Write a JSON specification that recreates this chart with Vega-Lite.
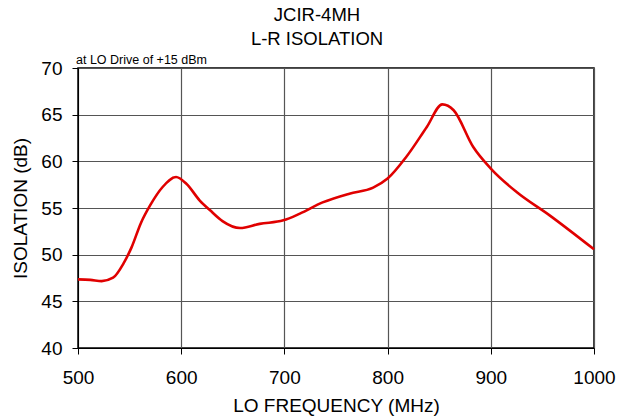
{
  "$schema": "https://vega.github.io/schema/vega-lite/v6.json",
  "width": 516,
  "height": 280,
  "autosize": {"type": "none"},
  "padding": {"left": 78, "top": 68, "right": 24, "bottom": 68},
  "background": "white",
  "config": {
    "font": "Liberation Sans",
    "view": {"stroke": "black", "strokeWidth": 1.5},
    "axis": {
      "labelFont": "Liberation Sans",
      "titleFont": "Liberation Sans",
      "labelFontSize": 19,
      "titleFontSize": 19,
      "titleFontWeight": "normal",
      "labelColor": "black",
      "titleColor": "black",
      "gridColor": "#555555",
      "gridWidth": 1.2,
      "gridOpacity": 1,
      "domainColor": "black",
      "tickColor": "black",
      "tickSize": 6
    }
  },
  "title": {
    "text": ["JCIR-4MH", "L-R ISOLATION"],
    "font": "Liberation Sans",
    "fontSize": 18.5,
    "fontWeight": "normal",
    "color": "black",
    "anchor": "middle",
    "frame": "group",
    "dx": -19,
    "lineHeight": 24,
    "offset": 6
  },
  "layer": [
    {
      "data": {
        "values": [
          {"f": 500, "iso": 47.35},
          {"f": 512, "iso": 47.3},
          {"f": 523, "iso": 47.17},
          {"f": 534, "iso": 47.53},
          {"f": 544, "iso": 49.04},
          {"f": 552, "iso": 50.81},
          {"f": 561, "iso": 53.4},
          {"f": 570, "iso": 55.3},
          {"f": 582, "iso": 57.25},
          {"f": 595, "iso": 58.32},
          {"f": 605, "iso": 57.6},
          {"f": 618, "iso": 55.8},
          {"f": 628, "iso": 54.75},
          {"f": 640, "iso": 53.6},
          {"f": 657, "iso": 52.85},
          {"f": 676, "iso": 53.3},
          {"f": 699, "iso": 53.68},
          {"f": 715, "iso": 54.4},
          {"f": 737, "iso": 55.6},
          {"f": 763, "iso": 56.54},
          {"f": 786, "iso": 57.18},
          {"f": 800, "iso": 58.15},
          {"f": 818, "iso": 60.46},
          {"f": 838, "iso": 63.68},
          {"f": 853, "iso": 66.1},
          {"f": 864, "iso": 65.47},
          {"f": 883, "iso": 61.53},
          {"f": 900, "iso": 59.22},
          {"f": 925, "iso": 56.71},
          {"f": 957, "iso": 54.21},
          {"f": 1000, "iso": 50.57}
        ]
      },
      "mark": {"type": "line", "color": "#e00000", "strokeWidth": 2.6, "interpolate": "monotone"},
      "encoding": {
        "x": {
          "field": "f",
          "type": "quantitative",
          "scale": {"domain": [500, 1000], "nice": false},
          "axis": {"values": [500, 600, 700, 800, 900, 1000], "format": "d", "title": "LO FREQUENCY (MHz)", "labelPadding": 14, "titlePadding": 9, "labelFlush": false}
        },
        "y": {
          "field": "iso",
          "type": "quantitative",
          "scale": {"domain": [40, 70], "nice": false, "zero": false},
          "axis": {"values": [40, 45, 50, 55, 60, 65, 70], "title": "ISOLATION (dB)", "labelPadding": 10, "titlePadding": 10, "labelFlush": false}
        }
      }
    },
    {
      "data": {"values": [{"note": "at LO Drive of +15 dBm"}]},
      "mark": {"type": "text", "align": "left", "baseline": "alphabetic", "fontSize": 12.5, "fontWeight": 400, "font": "Liberation Sans", "color": "black", "dx": -2, "dy": -4},
      "encoding": {
        "text": {"field": "note"},
        "x": {"datum": 500, "type": "quantitative"},
        "y": {"datum": 70, "type": "quantitative"}
      }
    }
  ]
}
